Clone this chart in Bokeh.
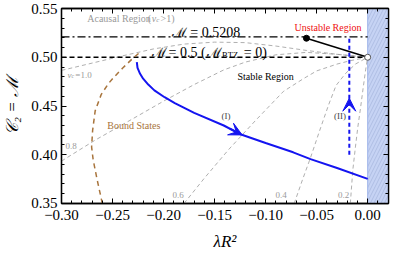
import numpy as np
from bokeh.plotting import figure
from bokeh.models import (Range1d, LinearAxis, SingleIntervalTicker, CustomJSTickFormatter,
                          Arrow, VeeHead, Label)
from bokeh.embed import file_html
from bokeh.resources import INLINE

# ---------------- data ----------------
x_lim = (-0.30, 0.0204)
y_lim = (0.35, 0.55)
M_acausal = 0.5208          # dash-dot line
M_btz0 = 0.5                # dashed line

# path (I): blue solid curve
path_I_x = [-0.2262, -0.2255, -0.2230, -0.2200, -0.2150, -0.2090, -0.1990, -0.1890,
            -0.1700, -0.1410, -0.1240, -0.1000, -0.0730, -0.0560, -0.0300, 0.0]
path_I_y = [0.4950, 0.4890, 0.4830, 0.4780, 0.4720, 0.4660, 0.4590, 0.4530,
            0.4430, 0.4300, 0.4207, 0.4120, 0.4025, 0.3955, 0.3864, 0.3753]
arrow_I_x = -0.123

# path (II): blue dashed vertical
path_II_x = [-0.018, -0.018]
path_II_y = [0.400, 0.5208]
arrow_II_y = (0.445, 0.458)

# bound states (brown dashed)
bound_x = [-0.260, -0.265, -0.269, -0.2705, -0.2695, -0.267, -0.261, -0.254,
           -0.250, -0.240, -0.230, -0.222]
bound_y = [0.350, 0.374, 0.395, 0.408, 0.425, 0.445, 0.462, 0.473,
           0.478, 0.489, 0.499, 0.506]

# v_c contours (grey dashed)
vc_labels = ["1.0", "0.8", "0.6", "0.4", "0.2"]
vc10_x = [-0.30, -0.27, -0.24, -0.21, -0.18, -0.15, -0.12, -0.09, -0.06, -0.03, 0.0]
vc10_y = [0.4865, 0.4940, 0.5015, 0.5085, 0.5135, 0.5155, 0.5150, 0.5115, 0.5070, 0.5030, 0.5]
vc08_x = [-0.30, -0.267, -0.23, -0.20, -0.17, -0.141, -0.12, -0.09, -0.06, -0.03, 0.0]
vc08_y = [0.3935, 0.415, 0.437, 0.455, 0.472, 0.487, 0.495, 0.5025, 0.505, 0.503, 0.5]
vc06_x = [-0.180, -0.160, -0.136, -0.110, -0.0825, -0.063, -0.050, -0.030, -0.017, 0.0]
vc06_y = [0.350, 0.376, 0.4056, 0.435, 0.465, 0.478, 0.486, 0.493, 0.4965, 0.5]
vc04_x = [-0.072, -0.064, -0.056, -0.046, -0.038, -0.031, -0.022, -0.012, 0.0]
vc04_y = [0.350, 0.374, 0.397, 0.428, 0.452, 0.471, 0.483, 0.493, 0.5]
vc02_x = [-0.0170, -0.0146, -0.0120, -0.0097, -0.0070, -0.0045, -0.0020, 0.0]
vc02_y = [0.350, 0.384, 0.408, 0.428, 0.448, 0.468, 0.487, 0.5]

# unstable segment: black dot -> open circle
seg_x = [-0.060, 0.0]
seg_y = [0.5195, 0.5]

# ---------------- styling ----------------
SERIF = "Liberation Serif"
BLUE = "#1414f0"
BROWN = "#a8743c"
GREY = "#9a9a9a"

p = figure(width=390, height=255,
           x_range=Range1d(x_lim[0] - 1e-7, x_lim[1]), y_range=Range1d(y_lim[0] - 1e-7, y_lim[1] + 1e-7),
           output_backend="svg", toolbar_location=None,
           min_border_left=58, min_border_right=2, min_border_top=8, min_border_bottom=52)
p.xgrid.visible = False
p.ygrid.visible = False
p.outline_line_color = "black"
p.outline_line_width = 1.3
p.background_fill_color = "white"

fmt = CustomJSTickFormatter(code="""
    const s = Math.abs(tick).toFixed(2);
    return (tick < -1e-9 ? "\u2212" : "") + s;
""")
blank_fmt = CustomJSTickFormatter(code="return '';")

def style_axis(ax, labels=True):
    ax.ticker = SingleIntervalTicker(interval=0.05, num_minor_ticks=5)
    ax.axis_line_color = "black"
    ax.axis_line_width = 1.3
    ax.major_tick_in = 5
    ax.major_tick_out = 0
    ax.minor_tick_in = 3
    ax.minor_tick_out = 0
    ax.major_tick_line_width = 1
    ax.minor_tick_line_width = 1
    if labels:
        ax.formatter = fmt
        ax.major_label_text_font = SERIF
        ax.major_label_text_font_size = "15px"
        ax.major_label_text_color = "black"
        ax.axis_label_text_font = SERIF
        ax.axis_label_text_font_style = "italic"
        ax.axis_label_text_font_size = "17px"
        ax.axis_label_text_color = "black"
    else:
        ax.formatter = blank_fmt
        ax.major_label_standoff = 0
        ax.axis_label = None

style_axis(p.xaxis[0])
style_axis(p.yaxis[0])
p.xaxis[0].axis_label = "λR²"
p.xaxis[0].major_label_standoff = 6
p.xaxis[0].axis_label_standoff = 9
p.yaxis[0].axis_label = "𝒞₂ = ℳ"
p.yaxis[0].major_label_standoff = 4
p.yaxis[0].axis_label_standoff = 6

top_ax = LinearAxis()
right_ax = LinearAxis()
style_axis(top_ax, labels=False)
style_axis(right_ax, labels=False)
p.add_layout(top_ax, "above")
p.add_layout(right_ax, "right")

# unstable (blue) region: lambda R^2 > 0
p.quad(left=[0.0], right=[x_lim[1]], bottom=[y_lim[0]], top=[y_lim[1]],
       fill_color="#c6d3f4", line_color="#9fb4ea", line_width=1,
       hatch_pattern="/", hatch_color="#7f8fc0", hatch_alpha=0.55,
       hatch_scale=7, hatch_weight=0.6)

# v_c contours
for xs, ys in [(vc10_x, vc10_y), (vc08_x, vc08_y), (vc06_x, vc06_y),
               (vc04_x, vc04_y), (vc02_x, vc02_y)]:
    p.line(xs, ys, line_color=GREY, line_width=0.8, line_dash="4 3")

# horizontal reference lines
p.line([x_lim[0], 0.0], [M_acausal, M_acausal], line_color="black",
       line_width=1.3, line_dash="8 3 2 3")
p.line([x_lim[0], 0.0], [M_btz0, M_btz0], line_color="black",
       line_width=1.3, line_dash="5 3")

# bound states
p.line(bound_x, bound_y, line_color=BROWN, line_width=1.5, line_dash="5 4")

# path (I)
p.line(path_I_x, path_I_y, line_color=BLUE, line_width=2)
y_end = float(np.interp(arrow_I_x, path_I_x, path_I_y))
y_start = float(np.interp(arrow_I_x - 0.012, path_I_x, path_I_y))
p.add_layout(Arrow(end=VeeHead(size=13, fill_color=BLUE, line_color=BLUE, line_width=1),
                   x_start=arrow_I_x - 0.012, y_start=y_start,
                   x_end=arrow_I_x, y_end=y_end, line_color=BLUE, line_width=2))

# path (II)
p.line(path_II_x, path_II_y, line_color=BLUE, line_width=2, line_dash="4 3")
p.add_layout(Arrow(end=VeeHead(size=13, fill_color=BLUE, line_color=BLUE, line_width=1),
                   x_start=path_II_x[0], y_start=arrow_II_y[0],
                   x_end=path_II_x[0], y_end=arrow_II_y[1], line_alpha=0))

# unstable segment
p.line(seg_x, seg_y, line_color="black", line_width=1.5)
p.scatter(seg_x[:1], seg_y[:1], size=6, color="black")
p.scatter(seg_x[1:], seg_y[1:], size=6, fill_color="white", line_color="#555555",
          line_width=1)

# ---------------- text ----------------
def px2x(px):
    # horizontal position of a label, from its pixel column in the reference
    return (px - 375.0) / 1030.0

def lab(px, y, text, size, color="black", style="normal", baseline="middle", align="left"):
    p.add_layout(Label(x=px2x(px), y=y, text=text, text_font=SERIF, text_font_size=size,
                       text_color=color, text_font_style=style,
                       text_baseline=baseline, text_align=align))

# Acausal Region (v_c>1)
lab(92, 0.5400, "Acausal Region", "10px", GREY)
lab(153, 0.5400, "(", "10px", GREY)
lab(157, 0.5400, "v", "10px", GREY, "italic")
lab(161.5, 0.5378, "c", "7px", GREY, "italic")
lab(166, 0.5400, ">1)", "10px", GREY)

# v_c = 1.0 and contour values
lab(72, 0.4823, "v", "9px", GREY, "italic")
lab(76, 0.4805, "c", "6px", GREY, "italic")
lab(80, 0.4823, "=1.0", "9px", GREY)
lab(70, 0.4085, "0.8", "9px", GREY)
lab(178, 0.3585, "0.6", "9px", GREY)
lab(282, 0.3585, "0.4", "9px", GREY)
lab(345, 0.3585, "0.2", "9px", GREY)

# M = 0.5208
lab(178, 0.5255, "ℳ", "13px", "black", baseline="alphabetic")
lab(196, 0.5255, "= 0.5208", "14px", "black", baseline="alphabetic")
# M = 0.5 (M_BTZ = 0)
lab(157, 0.5047, "ℳ", "13px", "black", baseline="alphabetic")
lab(174, 0.5047, "= 0.5 (", "14px", "black", baseline="alphabetic")
lab(213, 0.5047, "ℳ", "13px", "black", baseline="alphabetic")
lab(228, 0.5024, "BTZ", "8.5px", "black", baseline="alphabetic")
lab(250, 0.5047, "= 0)", "14px", "black", baseline="alphabetic")

lab(272, 0.4800, "Stable Region", "10px", "black", align="center")
lab(335, 0.5310, "Unstable Region", "10px", "#ee1111", align="center")
lab(139, 0.4300, "Bound States", "10px", BROWN, align="center")
lab(232, 0.4400, "(I)", "9px", "#444444", align="center")
lab(347, 0.4400, "(II)", "9px", "#444444", align="center")

open("out.html", "w").write(file_html(p, INLINE))
